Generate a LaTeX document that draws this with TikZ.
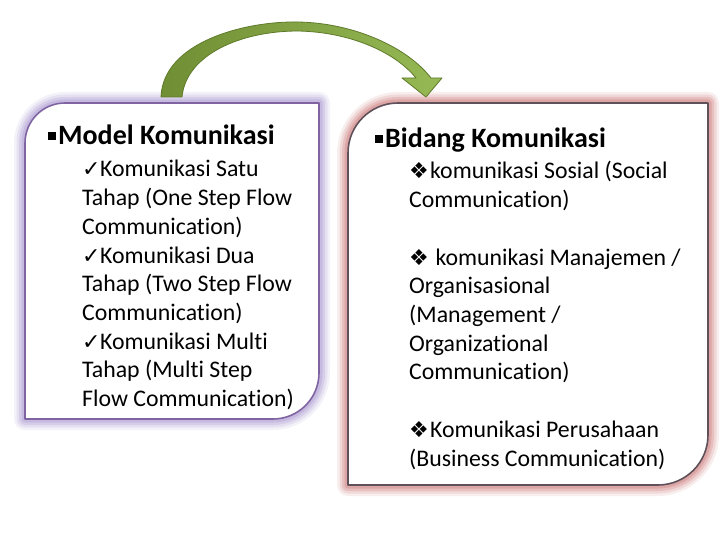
\documentclass[tikz,border=0pt]{standalone}
\usepackage{fontspec}
\setmainfont[Ligatures={CommonOff,ContextualOff}]{Carlito}
\newfontfamily\symfont{DejaVu Sans}
\definecolor{lineL}{RGB}{128,100,162}
\definecolor{glowL}{RGB}{170,150,210}
\definecolor{lineR}{RGB}{95,80,90}
\definecolor{glowR}{RGB}{205,120,120}
\definecolor{greenA}{RGB}{112,142,52}
\definecolor{greenB}{RGB}{150,185,85}
\definecolor{greenD}{RGB}{95,122,42}
\newcommand{\chk}{\makebox[18pt][l]{\symfont\fontsize{22}{22}\selectfont ✓}}
\newcommand{\dmd}{\makebox[21pt][l]{\symfont\fontsize{22}{22}\selectfont ❖}}
\newcommand{\sqb}{\rule[5pt]{8pt}{8pt}\hspace{2pt}}
\newcommand{\boxL}{(25,419) -- (25,143) .. controls (25,120.9) and (42.9,103) .. (65,103) -- (319,103) -- (319,373) .. controls (319,398.4) and (298.4,419) .. (273,419) -- cycle}
\newcommand{\boxR}{(348,485) -- (348,153) .. controls (348,125.4) and (370.4,103) .. (398,103) -- (708,103) -- (708,435) .. controls (708,462.6) and (685.6,485) .. (658,485) -- cycle}
\begin{document}
\begin{tikzpicture}[x=1pt,y=-1pt,line join=round,
  item/.style={anchor=base west,inner sep=0pt,font=\fontsize{23.8}{28.7}\selectfont},
  head/.style={anchor=base west,inner sep=0pt,font=\bfseries\fontsize{28}{32}\selectfont}]
 \useasboundingbox[fill=white] (0,0) rectangle (720,540);
 % glow round the two boxes
 \foreach \w/\o in {22/0.12,17/0.18,12/0.25,7/0.35}{
   \draw[glowL,line width=\w pt,opacity=\o] \boxL;
   \draw[glowR,line width=\w pt,opacity=\o] \boxR;
 }
 \draw[lineL,line width=1.6pt,fill=white] \boxL;
 \draw[lineR,line width=1.6pt,fill=white] \boxR;
 % green arrow
 \shade[left color=greenA,right color=greenB,draw=greenD,line width=0.8pt]
   (161,97) .. controls (163,42) and (245,21) .. (298,22)
   .. controls (355,23) and (408,48) .. (431,78)
   -- (442,78) -- (426,97) -- (402,78) -- (416,78)
   .. controls (395,52) and (350,32) .. (298,31)
   .. controls (240,31) and (186,55) .. (182,97) -- cycle;
 % left text
 \node[head] (modelH) at (48,145) {\sqb Model Komunikasi};
 \foreach \t [count=\i from 0] in {\chk Komunikasi Satu,Tahap (One Step Flow,Communication)}
   \node[item] (one\i) at (82,177+28.7*\i) {\t};
 \foreach \t [count=\i from 0] in {\chk Komunikasi Dua,Tahap (Two Step Flow,Communication)}
   \node[item] (two\i) at (82,263.1+28.7*\i) {\t};
 \foreach \t [count=\i from 0] in {\chk Komunikasi Multi,Tahap (Multi Step,Flow Communication)}
   \node[item] (multi\i) at (82,349.2+28.7*\i) {\t};
 % right text
 \node[head] (bidangH) at (375,148) {\sqb Bidang Komunikasi};
 \foreach \t [count=\i from 0] in {\dmd komunikasi Sosial (Social,Communication)}
   \node[item] (soc\i) at (409,179+28.7*\i) {\t};
 \foreach \t [count=\i from 0] in {\dmd\ komunikasi Manajemen /,Organisasional,{(Management /},Organizational,Communication)}
   \node[item] (man\i) at (409,265.1+28.7*\i) {\t};
 \foreach \t [count=\i from 0] in {\dmd Komunikasi Perusahaan,{(Business Communication)}}
   \node[item] (bis\i) at (409,437.3+28.7*\i) {\t};
\end{tikzpicture}
\end{document}
